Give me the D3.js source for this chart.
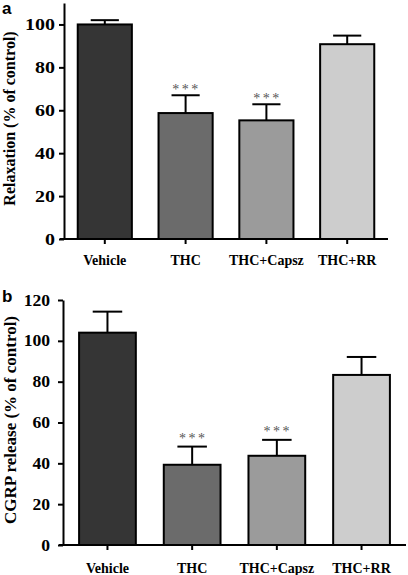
<!DOCTYPE html>
<html><head><meta charset="utf-8">
<script src="https://cdn.jsdelivr.net/npm/d3@7"></script>
<style>body{margin:0;background:#fff}svg{display:block}</style>
</head><body>
<svg id="c" width="408" height="575"></svg>
<script>
const categories = ["Vehicle", "THC", "THC+Capsz", "THC+RR"];
const barColors = ["#353535", "#6b6b6b", "#9b9b9b", "#cdcdcd"];
const relaxMean = [100, 58.7, 55.3, 90.8];
const relaxErr = [2, 8.3, 7.5, 4];
const cgrpMean = [104, 39.3, 43.7, 83.3];
const cgrpErr = [10.3, 8.9, 7.8, 8.8];
const significance = ["", "***", "***", ""];
const relaxTicks = [0, 20, 40, 60, 80, 100];
const cgrpTicks = [0, 20, 40, 60, 80, 100, 120];

const svg = d3.select("#c");
const serif = "'Liberation Serif','Times New Roman',serif";

function panel(o) {
  const g = svg.append("g");
  const y = d3.scaleLinear().domain(o.domain).range([o.y0, o.y1]);
  const x = d3.scaleBand().domain(categories).range([o.x0, o.x1])
    .paddingInner(0.33).paddingOuter(o.po);

  // bars
  g.selectAll("rect.bar").data(o.mean).join("rect")
    .attr("x", (d, i) => x(categories[i]))
    .attr("width", x.bandwidth())
    .attr("y", d => y(d))
    .attr("height", d => y(0) - y(d))
    .attr("fill", (d, i) => barColors[i])
    .attr("stroke", "#000").attr("stroke-width", 2);

  // error bars
  const capW = x.bandwidth() * 0.52;
  o.mean.forEach((m, i) => {
    const cx = x(categories[i]) + x.bandwidth() / 2;
    g.append("line").attr("x1", cx).attr("x2", cx)
      .attr("y1", y(m)).attr("y2", y(m + o.err[i]))
      .attr("stroke", "#000").attr("stroke-width", 2);
    g.append("line").attr("x1", cx - capW / 2).attr("x2", cx + capW / 2)
      .attr("y1", y(m + o.err[i])).attr("y2", y(m + o.err[i]))
      .attr("stroke", "#000").attr("stroke-width", 2);
    if (significance[i]) {
      g.append("text").attr("x", cx + 1).attr("y", y(m + o.err[i]) - o.starOff)
        .attr("text-anchor", "middle")
        .attr("font-family", serif).attr("font-size", 14)
        .attr("letter-spacing", 2.5)
        .attr("fill", "#555").text(significance[i]);
    }
  });

  // y axis
  const ya = g.append("g").attr("transform", `translate(${o.x0},0)`)
    .call(d3.axisLeft(y).tickValues(o.ticks).tickSize(5).tickSizeOuter(0).tickPadding(0));
  ya.selectAll("path,line").attr("stroke", "#000").attr("stroke-width", 2);
  ya.selectAll("text").attr("font-family", serif).attr("font-weight", "bold")
    .attr("font-size", o.tfs).attr("fill", "#000")
    .attr("x", -o.tright / o.tsx)
    .attr("transform", `scale(${o.tsx},1)`);

  // x axis
  g.append("line").attr("x1", o.x0 - 4).attr("x2", o.x1)
    .attr("y1", y(0)).attr("y2", y(0)).attr("stroke", "#000").attr("stroke-width", 2);
  const xa = g.append("g").attr("transform", `translate(0,${y(0)})`)
    .call(d3.axisBottom(x).tickSize(5).tickSizeOuter(0).tickPadding(o.xpad));
  xa.select(".domain").remove();
  xa.selectAll("line").attr("stroke", "#000").attr("stroke-width", 2);
  xa.selectAll("text").attr("font-family", serif).attr("font-weight", "bold")
    .attr("font-size", 14).attr("fill", "#000");

  // y title
  g.append("text")
    .attr("transform", `translate(${o.titleX},${o.titleY}) rotate(-90)`)
    .attr("text-anchor", "middle")
    .attr("font-family", serif).attr("font-weight", "bold")
    .attr("font-size", o.titleFs).text(o.title);

  // panel letter
  g.append("text").attr("x", 2).attr("y", o.letterY)
    .attr("font-family", "'Liberation Sans',Arial,sans-serif").attr("font-weight", "bold")
    .attr("font-size", 17).text(o.letter);
}

panel({
  mean: relaxMean, err: relaxErr, domain: [0, 110], ticks: relaxTicks,
  y0: 239, y1: 3, x0: 64, x1: 388, po: 0.17, tright: 9, tsx: 1.25, tfs: 16, xpad: 11,
  starOff: 1, title: "Relaxation (% of control)", titleX: 14.5, titleY: 118.5, titleFs: 16,
  letter: "a", letterY: 14
});
panel({
  mean: cgrpMean, err: cgrpErr, domain: [0, 120], ticks: cgrpTicks,
  y0: 545, y1: 300, x0: 63, x1: 406, po: 0.19, tright: 13, tsx: 1.1, tfs: 16, xpad: 13,
  starOff: 4, title: "CGRP release (% of control)", titleX: 16, titleY: 420, titleFs: 17,
  letter: "b", letterY: 302
});
</script>
</body></html>
